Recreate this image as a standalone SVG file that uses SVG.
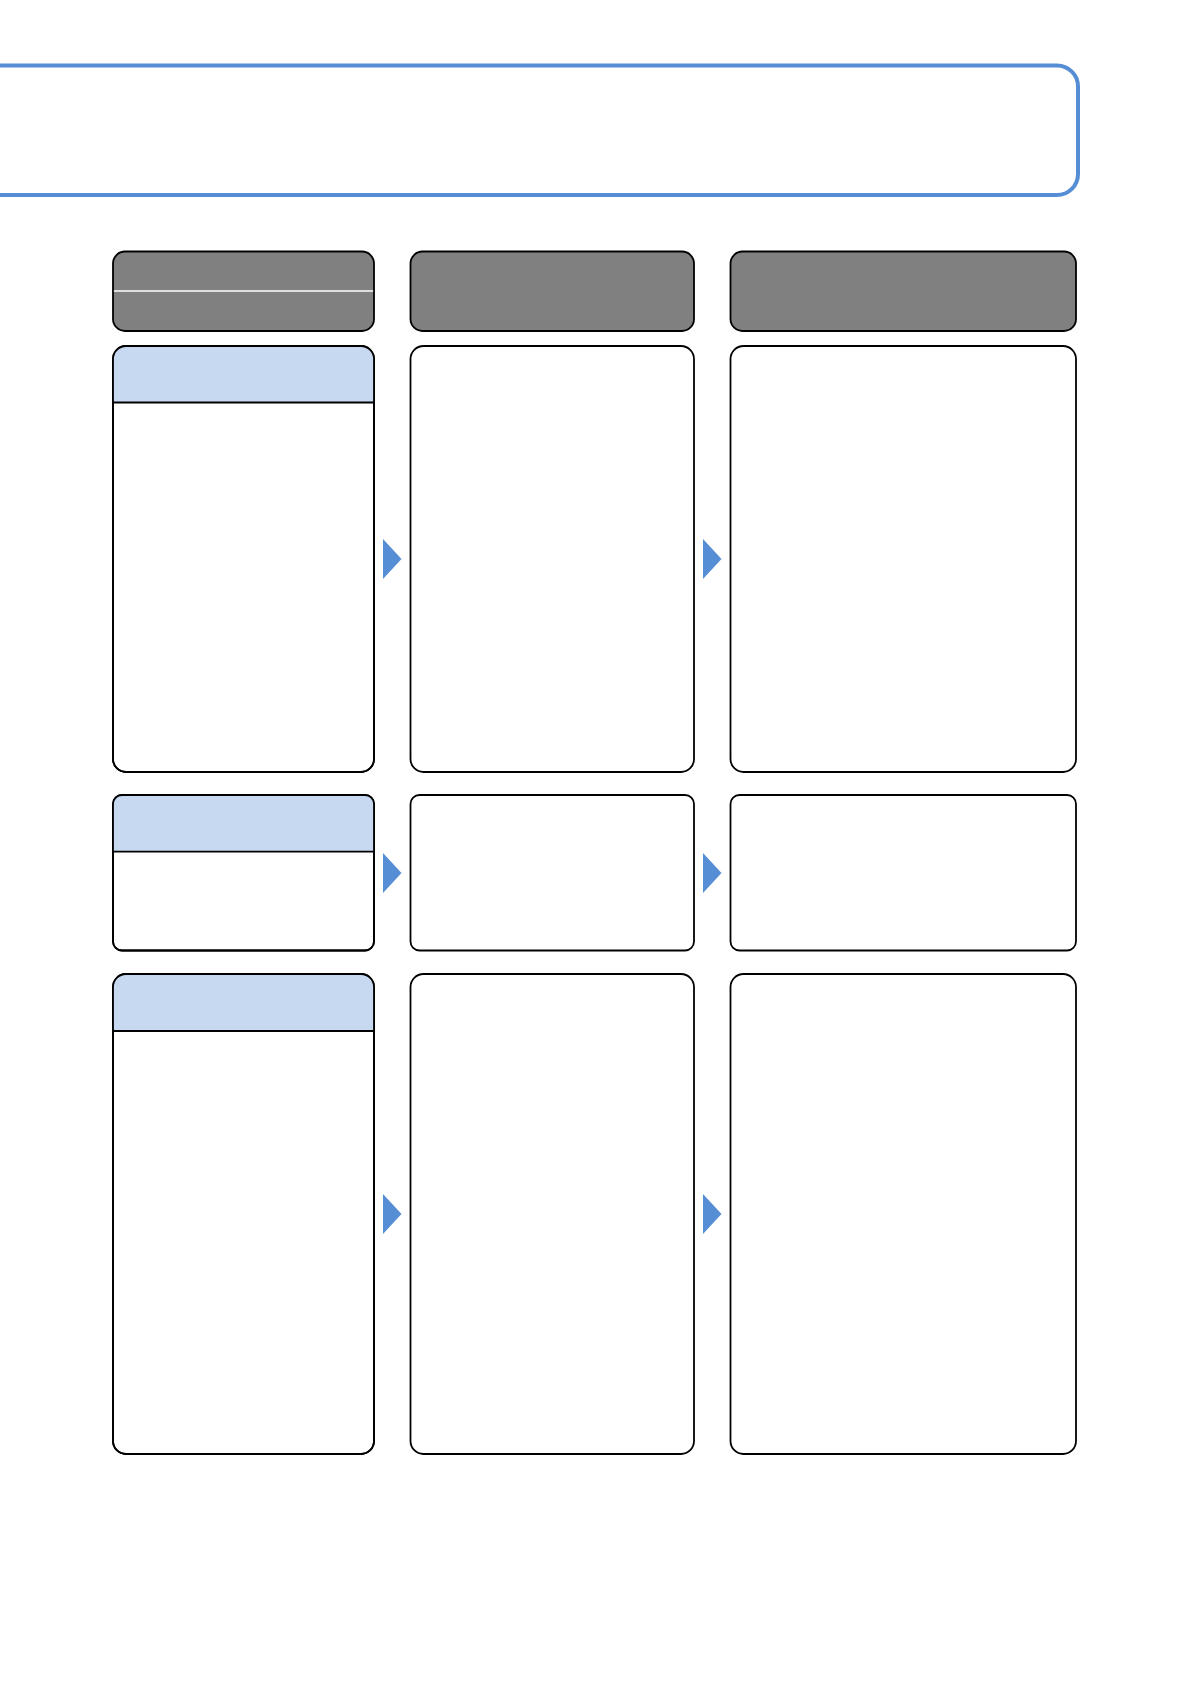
<svg xmlns="http://www.w3.org/2000/svg" width="1190" height="1684" viewBox="0 0 1190 1684">
  <style>
    .bg{fill:#ffffff}
    .banner{fill:#ffffff;stroke:#558ed5;stroke-width:4}
    .head{fill:#808080;stroke:#000000;stroke-width:1.8}
    .box{fill:#ffffff;stroke:#000000;stroke-width:1.8}
    .frame{fill:none;stroke:#000000;stroke-width:1.8}
    .band{fill:#c6d9f1}
    .div{stroke:#000000;stroke-width:1.8}
    .wline{stroke:#ffffff;stroke-width:1.5}
    .arrow{fill:#558ed5}
  </style>
  <rect class="bg" x="0" y="0" width="1190" height="1684"/>

  <g id="banner">
    <rect class="banner" x="-40" y="65.5" width="1118" height="129.5" rx="21" ry="21"/>
  </g>

  <g id="header-1">
    <rect class="head" x="113" y="251.5" width="261" height="79.5" rx="12" ry="12"/>
    <line class="wline" x1="113.9" y1="291" x2="373.1" y2="291"/>
  </g>
  <g id="header-2">
    <rect class="head" x="410.5" y="251.5" width="283.5" height="79.5" rx="12" ry="12"/>
  </g>
  <g id="header-3">
    <rect class="head" x="730.5" y="251.5" width="345.5" height="79.5" rx="12" ry="12"/>
  </g>

  <!-- Row 1 -->
  <g id="row1-col1">
    <rect class="box" x="113" y="346" width="261" height="426" rx="13" ry="13"/>
    <path class="band" d="M113,402.5 V359 A13,13 0 0 1 126,346 H361 A13,13 0 0 1 374,359 V402.5 Z"/>
    <line class="div" x1="113" y1="402.5" x2="374" y2="402.5"/>
    <rect class="frame" x="113" y="346" width="261" height="426" rx="13" ry="13"/>
  </g>
  <g id="row1-col2">
    <rect class="box" x="410.5" y="346" width="283.5" height="426" rx="13" ry="13"/>
  </g>
  <g id="row1-col3">
    <rect class="box" x="730.5" y="346" width="345.5" height="426" rx="13" ry="13"/>
  </g>

  <!-- Row 2 -->
  <g id="row2-col1">
    <rect class="box" x="113" y="795" width="261" height="155.5" rx="9" ry="9"/>
    <path class="band" d="M113,851.7 V804 A9,9 0 0 1 122,795 H365 A9,9 0 0 1 374,804 V851.7 Z"/>
    <line class="div" x1="113" y1="851.7" x2="374" y2="851.7"/>
    <rect class="frame" x="113" y="795" width="261" height="155.5" rx="9" ry="9"/>
  </g>
  <g id="row2-col2">
    <rect class="box" x="410.5" y="795" width="283.5" height="155.5" rx="9" ry="9"/>
  </g>
  <g id="row2-col3">
    <rect class="box" x="730.5" y="795" width="345.5" height="155.5" rx="9" ry="9"/>
  </g>

  <!-- Row 3 -->
  <g id="row3-col1">
    <rect class="box" x="113" y="974" width="261" height="480" rx="13" ry="13"/>
    <path class="band" d="M113,1031 V987 A13,13 0 0 1 126,974 H361 A13,13 0 0 1 374,987 V1031 Z"/>
    <line class="div" x1="113" y1="1031" x2="374" y2="1031"/>
    <rect class="frame" x="113" y="974" width="261" height="480" rx="13" ry="13"/>
  </g>
  <g id="row3-col2">
    <rect class="box" x="410.5" y="974" width="283.5" height="480" rx="13" ry="13"/>
  </g>
  <g id="row3-col3">
    <rect class="box" x="730.5" y="974" width="345.5" height="480" rx="13" ry="13"/>
  </g>

  <g id="connectors">
    <polygon class="arrow" points="383,539 401.5,559 383,579"/>
    <polygon class="arrow" points="703,539 721.5,559 703,579"/>
    <polygon class="arrow" points="383,853 401.5,873 383,893"/>
    <polygon class="arrow" points="703,853 721.5,873 703,893"/>
    <polygon class="arrow" points="383,1194 401.5,1214 383,1234"/>
    <polygon class="arrow" points="703,1194 721.5,1214 703,1234"/>
  </g>
</svg>
